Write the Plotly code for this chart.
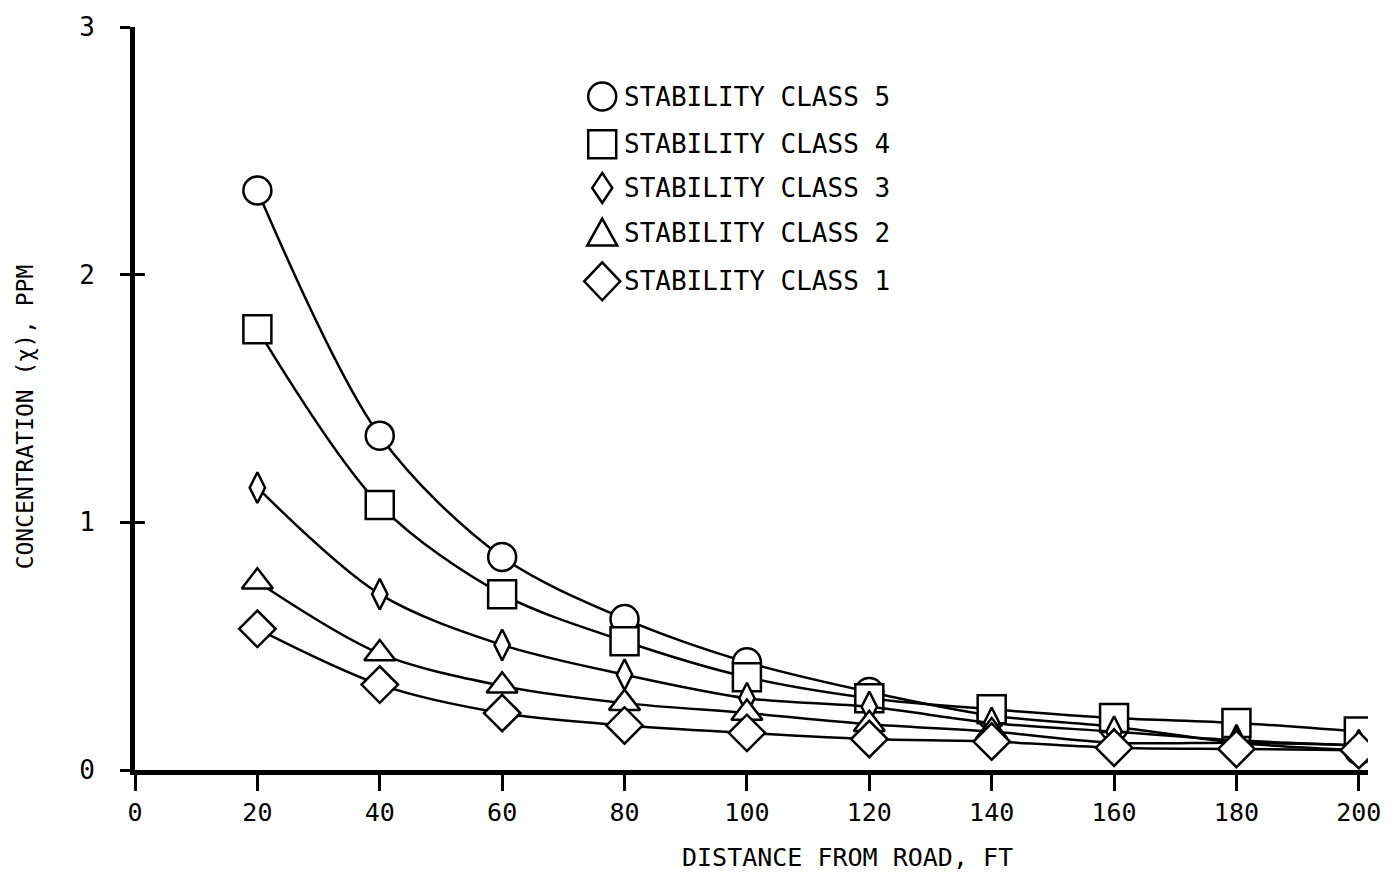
import plotly.graph_objects as go

distance_ft = [20, 40, 60, 80, 100, 120, 140, 160, 180, 200]
class5 = [2.34, 1.35, 0.86, 0.61, 0.435, 0.315, 0.22, 0.175, 0.11, 0.08]
class4 = [1.78, 1.07, 0.71, 0.52, 0.375, 0.29, 0.245, 0.21, 0.19, 0.155]
class3 = [1.14, 0.71, 0.505, 0.385, 0.29, 0.255, 0.19, 0.155, 0.12, 0.10]
class2 = [0.76, 0.47, 0.34, 0.27, 0.23, 0.185, 0.155, 0.11, 0.11, 0.10]
class1 = [0.57, 0.345, 0.23, 0.18, 0.15, 0.125, 0.115, 0.09, 0.085, 0.08]

series_names = ["STABILITY CLASS 5", "STABILITY CLASS 4", "STABILITY CLASS 3",
                "STABILITY CLASS 2", "STABILITY CLASS 1"]
x_ticks = [0, 20, 40, 60, 80, 100, 120, 140, 160, 180, 200]
y_ticks = [0, 1, 2, 3]

FONT = "DejaVu Sans Mono"
styles = [
    dict(symbol="circle", size=28),
    dict(symbol="square", size=28),
    dict(symbol="diamond-tall", size=22),
    dict(symbol="triangle-up", size=27),
    dict(symbol="diamond", size=28),
]
data = [class5, class4, class3, class2, class1]

fig = go.Figure()
for name, ys, st in zip(series_names, data, styles):
    fig.add_trace(go.Scatter(
        x=distance_ft, y=ys, name=name, mode="lines+markers",
        line=dict(color="black", width=2.5, shape="spline", smoothing=0.9),
        marker=dict(symbol=st["symbol"], size=st["size"], color="white",
                    line=dict(color="black", width=2.5)),
        showlegend=False,
    ))

# dummy trace to carry a second y axis used for inside tick marks
fig.add_trace(go.Scatter(x=[None], y=[None], yaxis="y2", showlegend=False))

fig.update_layout(
    width=1393, height=878,
    margin=dict(l=135, r=15, t=22, b=108),
    paper_bgcolor="white", plot_bgcolor="white",
    font=dict(family=FONT, size=26, color="black"),
    xaxis=dict(range=[0, 201.5], tickvals=x_ticks, ticks="outside", ticklen=16,
               tickwidth=2.5, tickcolor="black", showgrid=False, zeroline=False,
               showline=True, linecolor="black", linewidth=5,
               ticklabelstandoff=0, tickfont=dict(size=25)),
    yaxis=dict(range=[0, 3], tickvals=y_ticks, ticks="outside", ticklen=10,
               tickwidth=2.5, tickcolor="black", showgrid=False, zeroline=False,
               showline=True, linecolor="black", linewidth=5,
               ticklabelstandoff=20, tickfont=dict(size=26)),
    yaxis2=dict(range=[0, 3], tickvals=y_ticks, ticks="inside", ticklen=10,
                tickwidth=2.5, tickcolor="black", showticklabels=False,
                showgrid=False, zeroline=False, overlaying="y", side="left",
                showline=False),
)

# axis titles
fig.add_annotation(text="DISTANCE FROM ROAD, FT", xref="paper", yref="paper",
                   x=0.578, y=-0.118, xanchor="center", yanchor="middle",
                   showarrow=False, font=dict(size=25))
fig.add_annotation(text="CONCENTRATION (χ), PPM", xref="paper", yref="paper",
                   x=-0.089, y=0.475, xanchor="center", yanchor="middle",
                   textangle=-90, showarrow=False, font=dict(size=23))

# legend block: key shapes (pixel-sized) + labels, in paper coordinates
def px_x(p):
    return (p - 135) / 1243

def px_y(p):
    return (770 - p) / 748

key_line = dict(color="black", width=2.5)
row_px = [92, 140, 184, 229, 278]
key_x = 606
keys = [
    dict(type="circle", x0=-14, x1=14, y0=-14, y1=14),
    dict(type="rect", x0=-14, x1=14, y0=-14, y1=14),
    dict(type="path", path="M 0,15 L 10,0 L 0,-15 L -10,0 Z"),
    dict(type="path", path="M -15,-13 L 15,-13 L 0,14 Z"),
    dict(type="path", path="M 0,19 L 18,0 L 0,-19 L -18,0 Z"),
]
for name, key, py in zip(series_names, keys, row_px):
    fig.add_shape(xref="paper", yref="paper", xsizemode="pixel", ysizemode="pixel",
                  xanchor=px_x(key_x), yanchor=px_y(py), line=key_line,
                  fillcolor="white", **key)
    fig.add_annotation(text=name, xref="paper", yref="paper",
                       x=px_x(626), y=px_y(py), xanchor="left", yanchor="middle",
                       showarrow=False, font=dict(size=26))

fig.write_html("out.html")
